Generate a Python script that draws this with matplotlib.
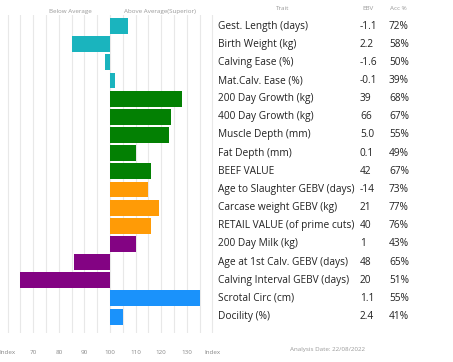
import numpy as np
import matplotlib
matplotlib.use("Agg")
import matplotlib.pyplot as plt
import matplotlib.transforms as mtransforms

# data
traits = ["Gest. Length (days)", "Birth Weight (kg)", "Calving Ease (%)",
          "Mat.Calv. Ease (%)", "200 Day Growth (kg)", "400 Day Growth (kg)",
          "Muscle Depth (mm)", "Fat Depth (mm)", "BEEF VALUE",
          "Age to Slaughter GEBV (days)", "Carcase weight GEBV (kg)",
          "RETAIL VALUE (of prime cuts)", "200 Day Milk (kg)",
          "Age at 1st Calv. GEBV (days)", "Calving Interval GEBV (days)",
          "Scrotal Circ (cm)", "Docility (%)"]
ebv = ["-1.1", "2.2", "-1.6", "-0.1", "39", "66", "5.0", "0.1", "42", "-14",
       "21", "40", "1", "48", "20", "1.1", "2.4"]
acc = ["72%", "58%", "50%", "39%", "68%", "67%", "55%", "49%", "67%", "73%",
       "77%", "76%", "43%", "65%", "51%", "55%", "41%"]
index = [107, 85, 98, 102, 128, 124, 123, 110, 116, 115, 119, 116, 110, 86, 65, 135, 105]
groups = ["calving"] * 4 + ["growth"] * 5 + ["carcase"] * 3 + ["maternal"] * 3 + ["other"] * 2
xticks = [60, 70, 80, 90, 100, 110, 120, 130, 140]
xticklabels = ["Index", "70", "80", "90", "100", "110", "120", "130", "Index"]

group_colors = {"calving": "#1ab4be", "growth": "#038003", "carcase": "#ff9b06",
                "maternal": "#830383", "other": "#1a92fb"}

W, H = 453, 362
fig = plt.figure(figsize=(W / 100, H / 100), dpi=100)
fig.patch.set_facecolor("white")

# bar area in pixels: x 0..215, y 15..333
ax = fig.add_axes([0, 1 - 333 / H, 215 / W, 318 / H])
y = np.arange(len(traits))
vals = np.array(index)
ax.barh(y, vals - 100, left=100, height=0.88,
        color=[group_colors[g] for g in groups], zorder=2)
ax.set_xlim(57, 141)
ax.set_ylim(16.9, -0.606)
for gx in np.arange(60, 141, 5):
    ax.axvline(gx, color="#e8e8e8", lw=0.8, zorder=1)
for s in ax.spines.values():
    s.set_visible(False)
ax.set_yticks([])
ax.set_xticks(xticks)
ax.set_xticklabels(xticklabels, fontsize=4.5, color="#888888", family="Open Sans")
ax.tick_params(axis="x", length=0, pad=12)

fp = dict(family="Open Sans", color="#222222")
tr = mtransforms.blended_transform_factory(fig.transFigure, ax.transData)
for i in range(len(traits)):
    ax.text(218 / W, i, traits[i], transform=tr, fontsize=7.3, va="center", ha="left", **fp)
    ax.text(360 / W, i, ebv[i], transform=tr, fontsize=7.3, va="center", ha="left", **fp)
    ax.text(389 / W, i, acc[i], transform=tr, fontsize=7.3, va="center", ha="left", **fp)

small = dict(family="Open Sans", color="#999999", fontsize=4.5, va="center", ha="center")
fig.text(70 / W, 1 - 11 / H, "Below Average", **small)
fig.text(160 / W, 1 - 11 / H, "Above Average(Superior)", **small)
fig.text(283 / W, 1 - 9 / H, "Trait", **small)
fig.text(368 / W, 1 - 9 / H, "EBV", **small)
fig.text(398 / W, 1 - 9 / H, "Acc %", **small)
fig.text(327 / W, 1 - 349 / H, "Analysis Date: 22/08/2022", **small)

fig.savefig("out.png", dpi=100)
